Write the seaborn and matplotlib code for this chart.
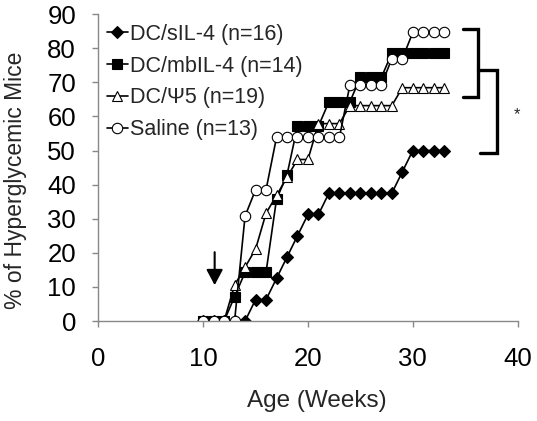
import pandas as pd
import seaborn as sns
import matplotlib.pyplot as plt

# Data (percent of hyperglycemic mice by age in weeks)
weeks = list(range(10, 34))
sil4 = [0, 0, 0, 0, 0, 6.25, 6.25, 12.5, 18.75, 25, 31.25, 31.25,
        37.5, 37.5, 37.5, 37.5, 37.5, 37.5, 37.5, 43.75, 50, 50, 50, 50]
mbil4 = [0, 0, 0, 7.14, 14.29, 14.29, 14.29, 35.71, 42.86, 57.14, 57.14, 57.14,
         64.29, 64.29, 64.29, 71.43, 71.43, 71.43, 78.57, 78.57, 78.57, 78.57, 78.57, 78.57]
psi5 = [0, 0, 0, 10.53, 15.79, 21.05, 31.58, 36.84, 42.11, 47.37, 47.37, 57.89,
        57.89, 57.89, 63.16, 63.16, 63.16, 63.16, 63.16, 68.42, 68.42, 68.42, 68.42, 68.42]
saline = [0, 0, 0, 0, 30.77, 38.46, 38.46, 53.85, 53.85, 53.85, 53.85, 53.85,
          53.85, 53.85, 69.23, 69.23, 69.23, 69.23, 76.92, 76.92, 84.62, 84.62, 84.62, 84.62]

labels = ['DC/sIL-4 (n=16)', 'DC/mbIL-4 (n=14)', 'DC/\u03a85 (n=19)', 'Saline (n=13)']
markers = ['D', 's', '^', 'o']
faces = ['black', 'black', 'white', 'white']
sizes = [6, 7.5, 7.5, 7.5]

df = pd.DataFrame({'week': weeks, 'sil4': sil4, 'mbil4': mbil4, 'psi5': psi5, 'saline': saline})

sns.set_style('ticks')
plt.rcParams['font.family'] = ['Liberation Sans', 'DejaVu Sans']

fig = plt.figure(figsize=(5.37, 4.21), dpi=100)
ax = fig.add_axes([0.183, 0.2375, 0.781, 0.729])

for col, lab, mk, fc, ms in zip(['sil4', 'mbil4', 'psi5', 'saline'], labels, markers, faces, sizes):
    sns.lineplot(data=df, x='week', y=col, ax=ax, color='black', linewidth=1.2,
                 marker=mk, markersize=ms, markerfacecolor=fc,
                 markeredgecolor='black', markeredgewidth=0.8, label=lab)

ax.set_xlim(0, 40)
ax.set_ylim(0, 90)
ax.set_xticks([0, 10, 20, 30, 40])
ax.set_yticks(range(0, 91, 10))
ax.set_xlabel('Age (Weeks)', fontsize=17.5, va='top')
ax.set_ylabel('% of Hyperglycemic Mice', fontsize=16.5)
ax.xaxis.set_label_coords(0.52, -0.225)
ax.yaxis.set_label_coords(-0.17, 0.46)
ax.tick_params(axis='both', labelsize=18.5, colors='#888888', labelcolor='black', length=4, width=1)
ax.tick_params(axis='x', pad=15)
ax.tick_params(axis='y', pad=12)
sns.despine(ax=ax)
for s in ['left', 'bottom']:
    ax.spines[s].set_color('#888888')
    ax.spines[s].set_linewidth(1)

ax.legend(loc='upper left', bbox_to_anchor=(0.02, 0.968), frameon=False, fontsize=15.5,
          handlelength=1.0, handletextpad=0.1, labelspacing=0.5, borderaxespad=0, borderpad=0)

# onset arrow
ax.annotate('', xy=(11.1, 9.7), xytext=(11.1, 21),
            arrowprops=dict(arrowstyle='-|>,head_length=0.47,head_width=0.25',
                            color='black', lw=1.5, mutation_scale=20))

# significance brackets
br1_x = [34.8, 36.2, 36.2, 34.8]
br1_y = [85.6, 85.6, 65.7, 65.7]
br2_x = [36.2, 38.0, 38.0, 36.4]
br2_y = [73.6, 73.6, 49.4, 49.4]
ax.plot(br1_x, br1_y, color='black', lw=2.4, clip_on=False, solid_joinstyle='miter')
ax.plot(br2_x, br2_y, color='black', lw=2.4, clip_on=False, solid_joinstyle='miter')
ax.text(39.9, 60.5, '*', fontsize=12, ha='center', va='center')

fig.savefig('out.png', dpi=100)
